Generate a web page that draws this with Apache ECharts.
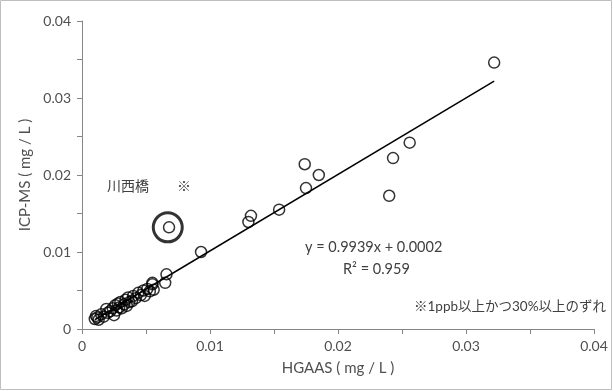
<!DOCTYPE html>
<html><head><meta charset="utf-8">
<script src="https://cdn.jsdelivr.net/npm/echarts@6/dist/echarts.min.js"></script>
<style>html,body{margin:0;padding:0;background:#fff}#c{width:613px;height:391px}</style>
</head><body><div id="c"></div>
<script>
var hgaas = [0.0010,0.0011,0.0012,0.0013,0.0015,0.0017,0.0019,0.0020,0.0022,0.0024,0.0025,0.0026,0.0027,0.0028,0.0029,0.0030,0.0031,0.0033,0.0034,0.0035,0.0036,0.0037,0.0039,0.0040,0.0042,0.0044,0.0046,0.0048,0.0049,0.0051,0.0053,0.0055,0.0056,0.0055,0.0065,0.0066,0.0068,0.0093,0.0130,0.0132,0.0154,0.0174,0.0175,0.0185,0.0240,0.0243,0.0256,0.0322];
var icpms = [0.0013,0.0017,0.0015,0.0012,0.0019,0.0016,0.0026,0.0021,0.0023,0.0027,0.0018,0.0031,0.0024,0.0033,0.0028,0.0035,0.0027,0.0032,0.0038,0.0030,0.0041,0.0035,0.0036,0.0043,0.0040,0.0047,0.0044,0.0050,0.0043,0.0052,0.0049,0.0060,0.0051,0.0058,0.0060,0.0071,0.0132,0.0100,0.0139,0.0147,0.0155,0.0214,0.0183,0.0200,0.0173,0.0222,0.0242,0.0346];
var highlightX = [0.0067];
var highlightY = [0.0132];
var trendX = [0.0010, 0.0322];
var trendY = [0.0012, 0.0322];
var xTicks = [0, 0.01, 0.02, 0.03, 0.04];
var yTicks = [0, 0.01, 0.02, 0.03, 0.04];

var FONT = "Lato, 'Noto Sans CJK JP', sans-serif";
var pts = hgaas.map(function(x,i){return [x, icpms[i]];});
var hl = highlightX.map(function(x,i){return [x, highlightY[i]];});
var tr = trendX.map(function(x,i){return [x, trendY[i]];});
function fmt(v){
  for (var i=0;i<xTicks.length;i++){ if (Math.abs(v-xTicks[i])<1e-9) return v===0?'0':xTicks[i].toFixed(2); }
  return '';
}
var chart = echarts.init(document.getElementById('c'), null, {renderer:'canvas'});
chart.setOption({
  animation:false,
  backgroundColor:'#fff',
  grid:{left:82,right:19,top:21,bottom:62},
  xAxis:{type:'value',min:0,max:0.04,interval:0.005,
    axisLine:{lineStyle:{color:'#868686',width:1}},
    axisTick:{show:true,length:5,lineStyle:{color:'#868686'}},
    splitLine:{show:false},
    axisLabel:{formatter:fmt,color:'#505050',fontSize:14,fontFamily:FONT,margin:10},
    name:'HGAAS ( mg / L )',nameLocation:'middle',nameGap:32,
    nameTextStyle:{color:'#505050',fontSize:15,fontFamily:FONT}},
  yAxis:{type:'value',min:0,max:0.04,interval:0.005,
    axisLine:{show:true,lineStyle:{color:'#868686',width:1}},
    axisTick:{show:true,length:5,lineStyle:{color:'#868686'}},
    splitLine:{show:false},
    axisLabel:{formatter:fmt,color:'#505050',fontSize:14,fontFamily:FONT,margin:11},
    name:'ICP-MS ( mg / L )',nameLocation:'middle',nameGap:48,
    nameTextStyle:{color:'#505050',fontSize:15,fontFamily:FONT}},
  series:[
    {type:'line',data:tr,symbol:'none',lineStyle:{color:'#000',width:1.5},z:2},
    {type:'scatter',data:pts,symbol:'circle',symbolSize:11,
      itemStyle:{color:'rgba(255,255,255,0)',borderColor:'#000',borderWidth:1.5},z:3},
    {type:'scatter',data:hl,symbol:'circle',symbolSize:29,
      itemStyle:{color:'rgba(255,255,255,0)',borderColor:'#000',borderWidth:3},z:3}
  ],
  graphic:[
    {type:'rect',shape:{x:0.5,y:0.5,width:611,height:389},style:{fill:'none',stroke:'#bfbfbf',lineWidth:1},silent:true},
    {type:'text',left:107,top:179,style:{text:'川西橋　　※',fill:'#404040',font:'14px '+FONT}},
    {type:'text',left:305,top:240,style:{text:'y = 0.9939x + 0.0002',fill:'#404040',font:'14.5px '+FONT}},
    {type:'text',left:343,top:262,style:{text:'R² = 0.959',fill:'#404040',font:'14.5px '+FONT}},
    {type:'text',left:414,top:300,style:{text:'※1ppb以上かつ30%以上のずれ',fill:'#404040',font:'13.5px '+FONT}}
  ]
});
</script></body></html>
